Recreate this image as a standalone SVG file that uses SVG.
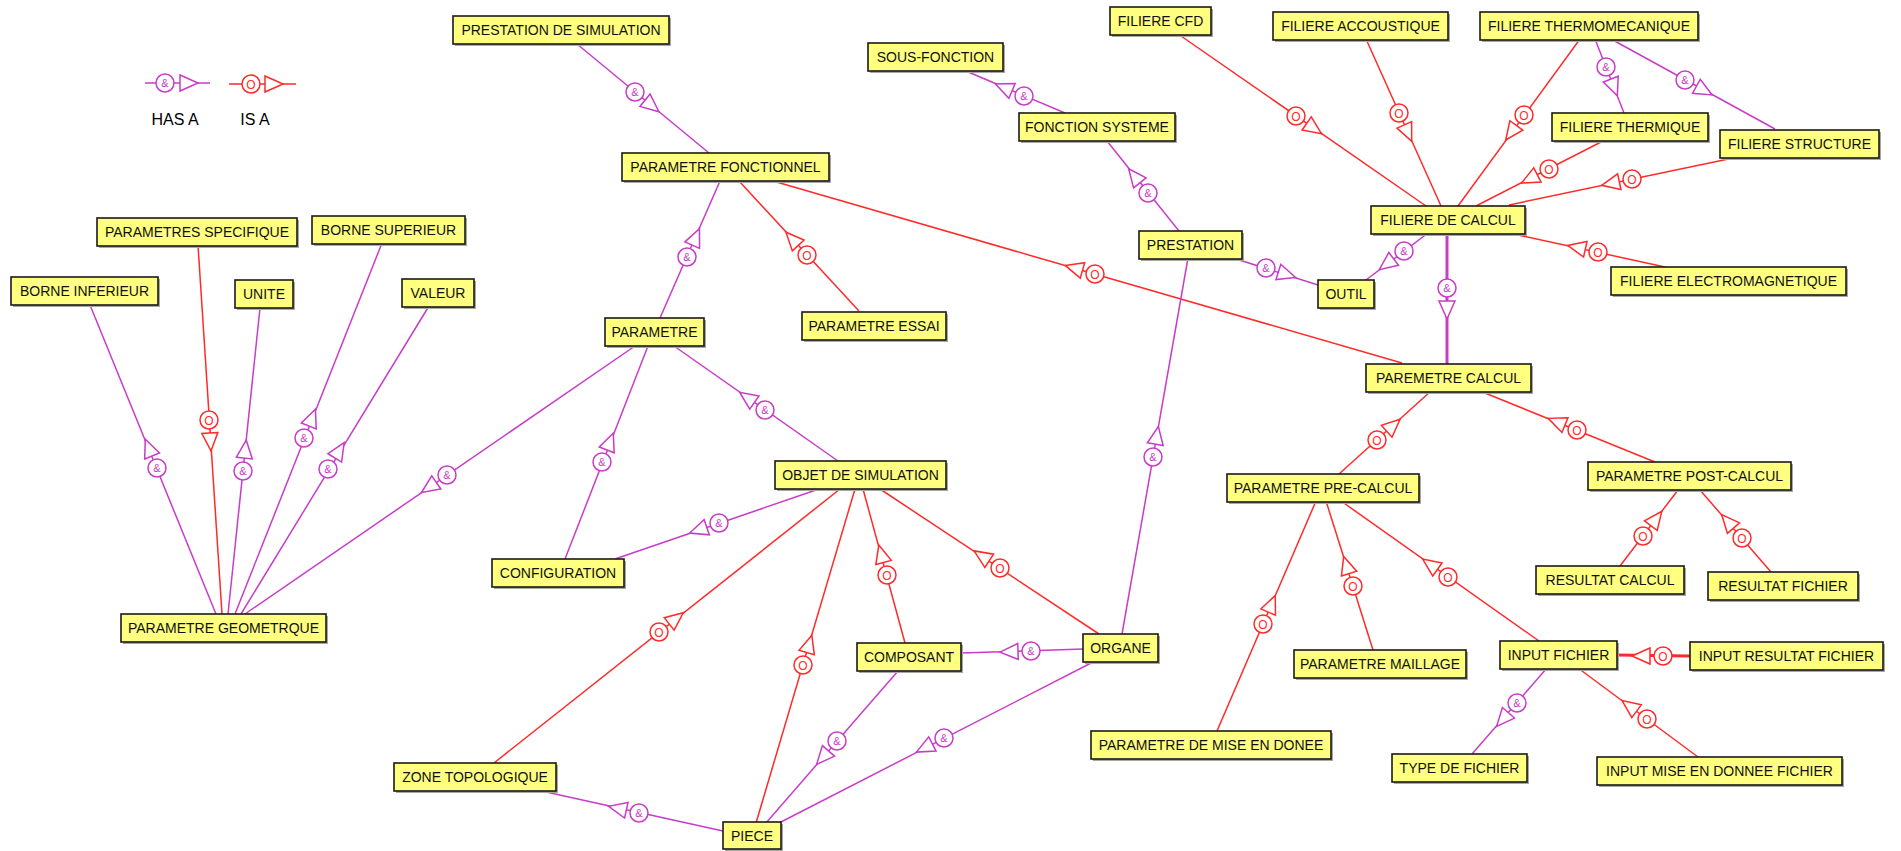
<svg xmlns="http://www.w3.org/2000/svg" xmlns:xlink="http://www.w3.org/1999/xlink" width="1901" height="851" viewBox="0 0 1901 851">
<style>
.n rect.s{fill:#a8a8a0}
.n rect.b{fill:#ffff80;stroke:#1a1a1a;stroke-width:1.6}
.n text{font-family:"Liberation Sans",Arial,sans-serif;font-size:14px;fill:#111;text-anchor:middle}
.h{stroke:#c83cc8;stroke-width:1.5;fill:none}
.i{stroke:#ff2a2a;stroke-width:1.5;fill:none}
.thick{stroke-width:3}
.leg{font-family:"Liberation Sans",Arial,sans-serif;font-size:16px;fill:#000;text-anchor:middle}
</style>
<defs>
<polygon id="tH" points="13,-8 13,8 31,0" fill="#fff" stroke="#c83cc8" stroke-width="1.5"/>
<polygon id="tI" points="13,-8 13,8 31,0" fill="#fff" stroke="#ff2a2a" stroke-width="1.5"/>
<g id="cH"><circle r="9" fill="#fff" stroke="#c83cc8" stroke-width="1.5"/><text y="4" font-family="Liberation Sans, Arial, sans-serif" font-size="11" fill="#c83cc8" text-anchor="middle">&amp;</text></g>
<g id="cI"><circle r="9" fill="#fff" stroke="#ff2a2a" stroke-width="1.5"/><text y="4.5" font-family="Liberation Sans, Arial, sans-serif" font-size="12" fill="#ff2a2a" text-anchor="middle">O</text></g>
</defs>
<rect width="1901" height="851" fill="#fff"/>

<g id="legend">
<line class="h" x1="145" y1="83" x2="210" y2="83"/>
<use xlink:href="#cH" href="#cH" x="165" y="83"/>
<use xlink:href="#tH" href="#tH" transform="translate(167,83)"/>
<line class="i" x1="229" y1="84" x2="296" y2="84"/>
<use xlink:href="#cI" href="#cI" x="251" y="84"/>
<use xlink:href="#tI" href="#tI" transform="translate(252,84)"/>
<text class="leg" x="175" y="125">HAS A</text>
<text class="leg" x="255" y="125">IS A</text>
</g>

<g id="connectors">
<line class="h" x1="577" y1="44" x2="709" y2="153"/>
<line class="h" x1="660" y1="318" x2="720" y2="181"/>
<line class="i" x1="859" y1="311" x2="739" y2="181"/>
<line class="i" x1="1402" y1="363" x2="773" y2="181"/>
<line class="h" x1="1065" y1="113" x2="966" y2="71"/>
<line class="h" x1="1179" y1="231" x2="1107" y2="141"/>
<line class="h" x1="1233" y1="258" x2="1318" y2="285"/>
<line class="h" x1="1428" y1="233" x2="1366" y2="280"/>
<line class="h thick" x1="1447" y1="233" x2="1447" y2="364"/>
<line class="i" x1="1181" y1="36" x2="1426" y2="206"/>
<line class="i" x1="1366" y1="39" x2="1441" y2="206"/>
<line class="i" x1="1580" y1="39" x2="1458" y2="206"/>
<line class="h" x1="1595" y1="39" x2="1624" y2="113"/>
<line class="h" x1="1611" y1="39" x2="1775" y2="129"/>
<line class="i" x1="1603" y1="141" x2="1476" y2="206"/>
<line class="i" x1="1738" y1="157" x2="1509" y2="205"/>
<line class="i" x1="1665" y1="267" x2="1509" y2="233"/>
<line class="h" x1="838" y1="461" x2="674" y2="346"/>
<line class="h" x1="565" y1="559" x2="648" y2="346"/>
<line class="h" x1="635" y1="346" x2="245" y2="614"/>
<line class="h" x1="216" y1="614" x2="90" y2="305"/>
<line class="i" x1="198" y1="245" x2="222" y2="614"/>
<line class="h" x1="228" y1="614" x2="260" y2="308"/>
<line class="h" x1="235" y1="614" x2="382" y2="243"/>
<line class="h" x1="241" y1="614" x2="429" y2="306"/>
<line class="h" x1="819" y1="489" x2="615" y2="559"/>
<line class="i" x1="494" y1="763" x2="840" y2="489"/>
<line class="i" x1="756" y1="823" x2="855" y2="489"/>
<line class="i" x1="905" y1="643" x2="863" y2="489"/>
<line class="i" x1="1099" y1="634" x2="880" y2="489"/>
<line class="h" x1="1083" y1="649" x2="961" y2="653"/>
<line class="h" x1="898" y1="671" x2="766" y2="823"/>
<line class="h" x1="1095" y1="661" x2="779" y2="823"/>
<line class="h" x1="723" y1="831" x2="537" y2="790"/>
<line class="h" x1="1122" y1="634" x2="1188" y2="258"/>
<line class="i" x1="1339" y1="474" x2="1431" y2="391"/>
<line class="i" x1="1655" y1="462" x2="1480" y2="391"/>
<line class="i" x1="1620" y1="566" x2="1678" y2="490"/>
<line class="i" x1="1771" y1="572" x2="1700" y2="490"/>
<line class="i" x1="1217" y1="731" x2="1316" y2="501"/>
<line class="i" x1="1373" y1="650" x2="1326" y2="501"/>
<line class="i" x1="1539" y1="641" x2="1341" y2="501"/>
<line class="i thick" x1="1690" y1="656" x2="1617" y2="655"/>
<line class="h" x1="1547" y1="668" x2="1472" y2="754"/>
<line class="i" x1="1698" y1="757" x2="1578" y2="668"/>

<use href="#tH" transform="translate(635,92) rotate(39.5)"/><use href="#cH" x="635" y="92"/>
<use href="#tH" transform="translate(687,257) rotate(-66.3)"/><use href="#cH" x="687" y="257"/>
<use href="#tI" transform="translate(807,255) rotate(-132.7)"/><use href="#cI" x="807" y="255"/>
<use href="#tI" transform="translate(1095,274) rotate(-163.9)"/><use href="#cI" x="1095" y="274"/>
<use href="#tH" transform="translate(1024,96) rotate(-157)"/><use href="#cH" x="1024" y="96"/>
<use href="#tH" transform="translate(1148,193) rotate(-128.7)"/><use href="#cH" x="1148" y="193"/>
<use href="#tH" transform="translate(1266,268) rotate(17.6)"/><use href="#cH" x="1266" y="268"/>
<use href="#tH" transform="translate(1404,251) rotate(142.8)"/><use href="#cH" x="1404" y="251"/>
<use href="#tH" transform="translate(1447,288) rotate(90)"/><use href="#cH" x="1447" y="288"/>
<use href="#tI" transform="translate(1296,116) rotate(34.8)"/><use href="#cI" x="1296" y="116"/>
<use href="#tI" transform="translate(1399,113) rotate(65.8)"/><use href="#cI" x="1399" y="113"/>
<use href="#tI" transform="translate(1524,115) rotate(126.2)"/><use href="#cI" x="1524" y="115"/>
<use href="#tH" transform="translate(1606,67) rotate(68.6)"/><use href="#cH" x="1606" y="67"/>
<use href="#tH" transform="translate(1685,80) rotate(28.8)"/><use href="#cH" x="1685" y="80"/>
<use href="#tI" transform="translate(1549,169) rotate(152.9)"/><use href="#cI" x="1549" y="169"/>
<use href="#tI" transform="translate(1632,179) rotate(168.2)"/><use href="#cI" x="1632" y="179"/>
<use href="#tI" transform="translate(1598,252) rotate(-167.7)"/><use href="#cI" x="1598" y="252"/>
<use href="#tH" transform="translate(765,410) rotate(-145)"/><use href="#cH" x="765" y="410"/>
<use href="#tH" transform="translate(602,462) rotate(-68.7)"/><use href="#cH" x="602" y="462"/>
<use href="#tH" transform="translate(447,475) rotate(145.5)"/><use href="#cH" x="447" y="475"/>
<use href="#tH" transform="translate(157,468) rotate(-112.2)"/><use href="#cH" x="157" y="468"/>
<use href="#tI" transform="translate(209,420) rotate(86.3)"/><use href="#cI" x="209" y="420"/>
<use href="#tH" transform="translate(243,471) rotate(-84)"/><use href="#cH" x="243" y="471"/>
<use href="#tH" transform="translate(304,438) rotate(-68.4)"/><use href="#cH" x="304" y="438"/>
<use href="#tH" transform="translate(328,469) rotate(-58.6)"/><use href="#cH" x="328" y="469"/>
<use href="#tH" transform="translate(719,523) rotate(161.1)"/><use href="#cH" x="719" y="523"/>
<use href="#tI" transform="translate(659,632) rotate(-38.4)"/><use href="#cI" x="659" y="632"/>
<use href="#tI" transform="translate(803,665) rotate(-73.5)"/><use href="#cI" x="803" y="665"/>
<use href="#tI" transform="translate(887,575) rotate(-105.3)"/><use href="#cI" x="887" y="575"/>
<use href="#tI" transform="translate(1000,568) rotate(-146.5)"/><use href="#cI" x="1000" y="568"/>
<use href="#tH" transform="translate(1031,651) rotate(178)"/><use href="#cH" x="1031" y="651"/>
<use href="#tH" transform="translate(837,741) rotate(131)"/><use href="#cH" x="837" y="741"/>
<use href="#tH" transform="translate(944,738) rotate(152.9)"/><use href="#cH" x="944" y="738"/>
<use href="#tH" transform="translate(639,813) rotate(-167.6)"/><use href="#cH" x="639" y="813"/>
<use href="#tH" transform="translate(1153,457) rotate(-80)"/><use href="#cH" x="1153" y="457"/>
<use href="#tI" transform="translate(1377,440) rotate(-42)"/><use href="#cI" x="1377" y="440"/>
<use href="#tI" transform="translate(1577,430) rotate(-157.9)"/><use href="#cI" x="1577" y="430"/>
<use href="#tI" transform="translate(1643,536) rotate(-52.7)"/><use href="#cI" x="1643" y="536"/>
<use href="#tI" transform="translate(1742,538) rotate(-130.9)"/><use href="#cI" x="1742" y="538"/>
<use href="#tI" transform="translate(1263,624) rotate(-66.7)"/><use href="#cI" x="1263" y="624"/>
<use href="#tI" transform="translate(1353,586) rotate(-107.5)"/><use href="#cI" x="1353" y="586"/>
<use href="#tI" transform="translate(1448,577) rotate(-144.7)"/><use href="#cI" x="1448" y="577"/>
<use href="#tI" transform="translate(1663,656) rotate(180)"/><use href="#cI" x="1663" y="656"/>
<use href="#tH" transform="translate(1517,703) rotate(131.1)"/><use href="#cH" x="1517" y="703"/>
<use href="#tI" transform="translate(1647,719) rotate(-143.4)"/><use href="#cI" x="1647" y="719"/>
</g>

<g id="n1" class="n"><rect class="s" x="455" y="18" width="216" height="28"/><rect class="b" x="453" y="16" width="216" height="28"/><text x="561" y="35">PRESTATION DE SIMULATION</text></g>
<g id="n2" class="n"><rect class="s" x="624" y="155" width="207" height="28"/><rect class="b" x="622" y="153" width="207" height="28"/><text x="725.5" y="172">PARAMETRE FONCTIONNEL</text></g>
<g id="n3" class="n"><rect class="s" x="870" y="45" width="135" height="28"/><rect class="b" x="868" y="43" width="135" height="28"/><text x="935.5" y="62">SOUS-FONCTION</text></g>
<g id="n4" class="n"><rect class="s" x="1021" y="115" width="156" height="28"/><rect class="b" x="1019" y="113" width="156" height="28"/><text x="1097" y="132">FONCTION SYSTEME</text></g>
<g id="n5" class="n"><rect class="s" x="1112" y="9" width="101" height="28"/><rect class="b" x="1110" y="7" width="101" height="28"/><text x="1160.5" y="26">FILIERE CFD</text></g>
<g id="n6" class="n"><rect class="s" x="1141" y="233" width="103" height="28"/><rect class="b" x="1139" y="231" width="103" height="28"/><text x="1190.5" y="250">PRESTATION</text></g>
<g id="n7" class="n"><rect class="s" x="1275" y="14" width="175" height="28"/><rect class="b" x="1273" y="12" width="175" height="28"/><text x="1360.5" y="31">FILIERE ACCOUSTIQUE</text></g>
<g id="n8" class="n"><rect class="s" x="1482" y="14" width="218" height="28"/><rect class="b" x="1480" y="12" width="218" height="28"/><text x="1589" y="31">FILIERE THERMOMECANIQUE</text></g>
<g id="n9" class="n"><rect class="s" x="1554" y="115" width="156" height="28"/><rect class="b" x="1552" y="113" width="156" height="28"/><text x="1630" y="132">FILIERE THERMIQUE</text></g>
<g id="n10" class="n"><rect class="s" x="1722" y="132" width="159" height="28"/><rect class="b" x="1720" y="130" width="159" height="28"/><text x="1799.5" y="149">FILIERE STRUCTURE</text></g>
<g id="n11" class="n"><rect class="s" x="1373" y="208" width="154" height="28"/><rect class="b" x="1371" y="206" width="154" height="28"/><text x="1448" y="225">FILIERE DE CALCUL</text></g>
<g id="n12" class="n"><rect class="s" x="1613" y="269" width="235" height="28"/><rect class="b" x="1611" y="267" width="235" height="28"/><text x="1728.5" y="286">FILIERE ELECTROMAGNETIQUE</text></g>
<g id="n13" class="n"><rect class="s" x="1320" y="282" width="56" height="28"/><rect class="b" x="1318" y="280" width="56" height="28"/><text x="1346" y="299">OUTIL</text></g>
<g id="n14" class="n"><rect class="s" x="99" y="220" width="200" height="28"/><rect class="b" x="97" y="218" width="200" height="28"/><text x="197" y="237">PARAMETRES SPECIFIQUE</text></g>
<g id="n15" class="n"><rect class="s" x="314" y="218" width="153" height="28"/><rect class="b" x="312" y="216" width="153" height="28"/><text x="388.5" y="235">BORNE SUPERIEUR</text></g>
<g id="n16" class="n"><rect class="s" x="13" y="279" width="147" height="28"/><rect class="b" x="11" y="277" width="147" height="28"/><text x="84.5" y="296">BORNE INFERIEUR</text></g>
<g id="n17" class="n"><rect class="s" x="237" y="282" width="58" height="28"/><rect class="b" x="235" y="280" width="58" height="28"/><text x="264" y="299">UNITE</text></g>
<g id="n18" class="n"><rect class="s" x="404" y="281" width="72" height="28"/><rect class="b" x="402" y="279" width="72" height="28"/><text x="438" y="298">VALEUR</text></g>
<g id="n19" class="n"><rect class="s" x="607" y="320" width="99" height="28"/><rect class="b" x="605" y="318" width="99" height="28"/><text x="654.5" y="337">PARAMETRE</text></g>
<g id="n20" class="n"><rect class="s" x="804" y="314" width="144" height="28"/><rect class="b" x="802" y="312" width="144" height="28"/><text x="874" y="331">PARAMETRE ESSAI</text></g>
<g id="n21" class="n"><rect class="s" x="777" y="463" width="171" height="28"/><rect class="b" x="775" y="461" width="171" height="28"/><text x="860.5" y="480">OBJET DE SIMULATION</text></g>
<g id="n22" class="n"><rect class="s" x="494" y="561" width="132" height="28"/><rect class="b" x="492" y="559" width="132" height="28"/><text x="558" y="578">CONFIGURATION</text></g>
<g id="n23" class="n"><rect class="s" x="123" y="616" width="205" height="28"/><rect class="b" x="121" y="614" width="205" height="28"/><text x="223.5" y="633">PARAMETRE GEOMETRQUE</text></g>
<g id="n24" class="n"><rect class="s" x="396" y="765" width="162" height="28"/><rect class="b" x="394" y="763" width="162" height="28"/><text x="475" y="782">ZONE TOPOLOGIQUE</text></g>
<g id="n25" class="n"><rect class="s" x="859" y="645" width="104" height="28"/><rect class="b" x="857" y="643" width="104" height="28"/><text x="909" y="662">COMPOSANT</text></g>
<g id="n26" class="n"><rect class="s" x="1085" y="636" width="75" height="28"/><rect class="b" x="1083" y="634" width="75" height="28"/><text x="1120.5" y="653">ORGANE</text></g>
<g id="n27" class="n"><rect class="s" x="725" y="824" width="58" height="27"/><rect class="b" x="723" y="822" width="58" height="27"/><text x="752" y="841">PIECE</text></g>
<g id="n28" class="n"><rect class="s" x="1093" y="733" width="240" height="28"/><rect class="b" x="1091" y="731" width="240" height="28"/><text x="1211" y="750">PARAMETRE DE MISE EN DONEE</text></g>
<g id="n29" class="n"><rect class="s" x="1368" y="366" width="165" height="28"/><rect class="b" x="1366" y="364" width="165" height="28"/><text x="1448.5" y="383">PAREMETRE CALCUL</text></g>
<g id="n30" class="n"><rect class="s" x="1229" y="476" width="192" height="28"/><rect class="b" x="1227" y="474" width="192" height="28"/><text x="1323" y="493">PARAMETRE PRE-CALCUL</text></g>
<g id="n31" class="n"><rect class="s" x="1590" y="464" width="203" height="28"/><rect class="b" x="1588" y="462" width="203" height="28"/><text x="1689.5" y="481">PARAMETRE POST-CALCUL</text></g>
<g id="n32" class="n"><rect class="s" x="1538" y="568" width="148" height="28"/><rect class="b" x="1536" y="566" width="148" height="28"/><text x="1610" y="585">RESULTAT CALCUL</text></g>
<g id="n33" class="n"><rect class="s" x="1710" y="574" width="150" height="28"/><rect class="b" x="1708" y="572" width="150" height="28"/><text x="1783" y="591">RESULTAT FICHIER</text></g>
<g id="n34" class="n"><rect class="s" x="1296" y="652" width="172" height="28"/><rect class="b" x="1294" y="650" width="172" height="28"/><text x="1380" y="669">PARAMETRE MAILLAGE</text></g>
<g id="n35" class="n"><rect class="s" x="1502" y="643" width="117" height="28"/><rect class="b" x="1500" y="641" width="117" height="28"/><text x="1558.5" y="660">INPUT FICHIER</text></g>
<g id="n36" class="n"><rect class="s" x="1692" y="644" width="193" height="28"/><rect class="b" x="1690" y="642" width="193" height="28"/><text x="1786.5" y="661">INPUT RESULTAT FICHIER</text></g>
<g id="n37" class="n"><rect class="s" x="1394" y="756" width="135" height="28"/><rect class="b" x="1392" y="754" width="135" height="28"/><text x="1459.5" y="773">TYPE DE FICHIER</text></g>
<g id="n38" class="n"><rect class="s" x="1599" y="759" width="245" height="28"/><rect class="b" x="1597" y="757" width="245" height="28"/><text x="1719.5" y="776">INPUT MISE EN DONNEE FICHIER</text></g>
</svg>
